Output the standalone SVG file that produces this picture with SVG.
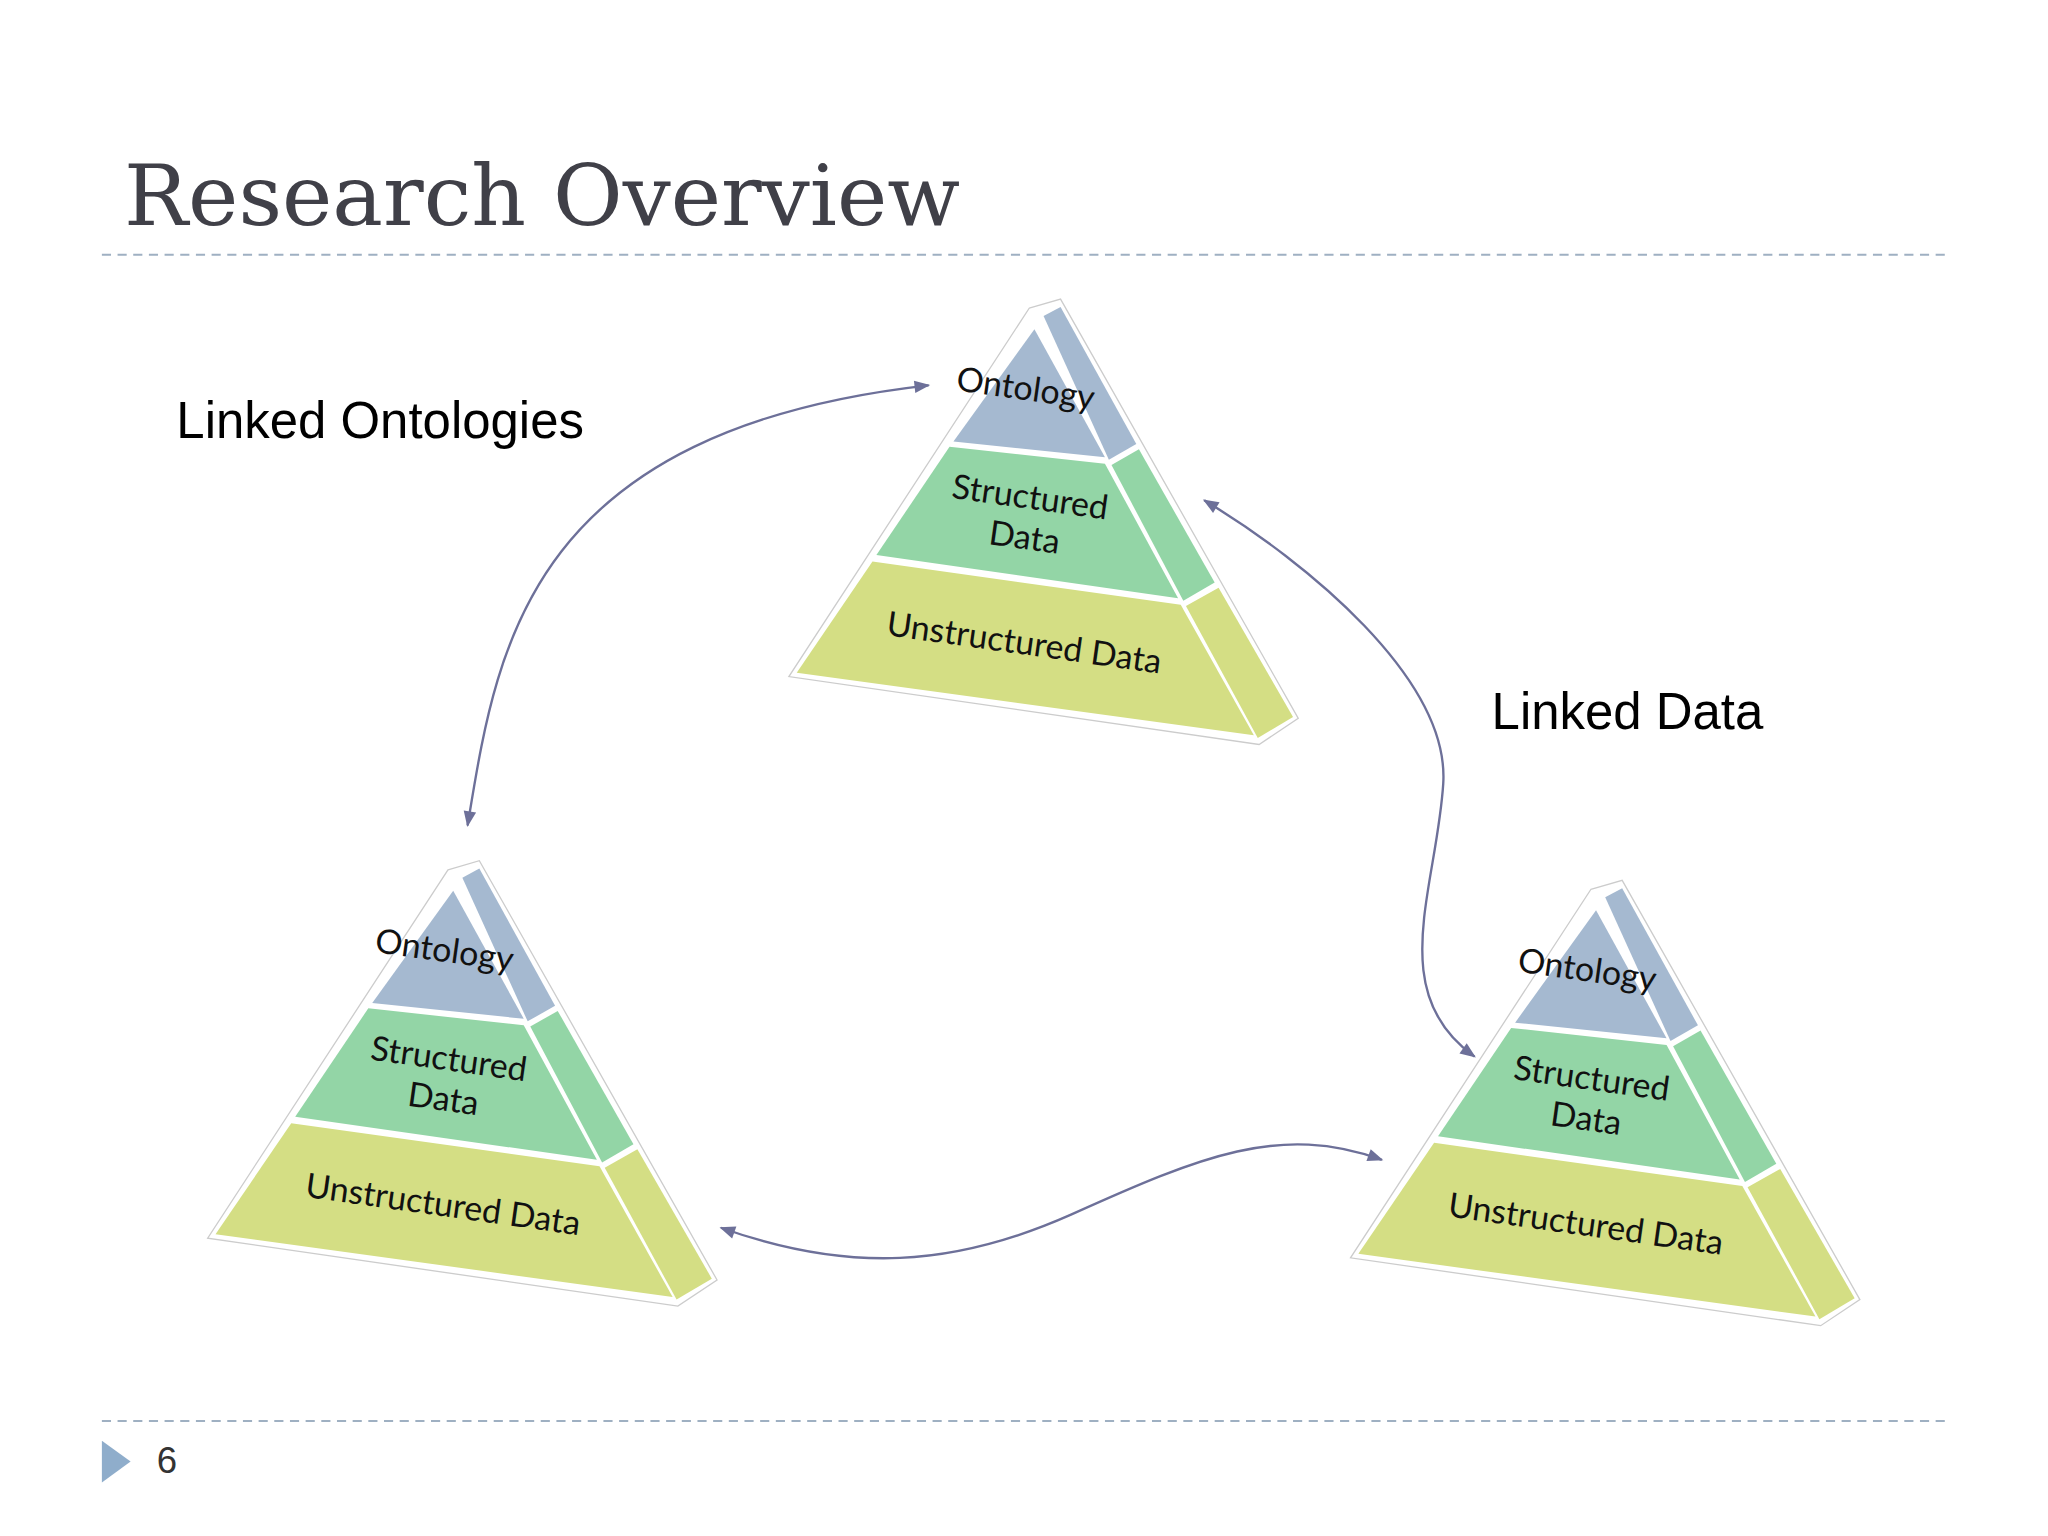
<svg xmlns="http://www.w3.org/2000/svg" width="2048" height="1536" viewBox="0 0 2048 1536">
<defs>
<style>
.o{fill:#a5b9d0}.s{fill:#93d5a6}.u{fill:#d4de84}
.t{font-family:"Lato","Open Sans",sans-serif;font-size:26px;fill:#111;text-anchor:middle}
.c{fill:none;stroke:#6d7099;stroke-width:1.8;marker-start:url(#a);marker-end:url(#a)}
.lab{font-family:"Liberation Sans",Arial,sans-serif;font-size:39px;fill:#000}
.dash{stroke:#9fb0c2;stroke-width:1.5;stroke-dasharray:7 5}
</style>
<marker id="a" viewBox="0 0 10 10" refX="9" refY="5" markerWidth="13" markerHeight="12" orient="auto-start-reverse" markerUnits="userSpaceOnUse"><path d="M0,1L10,5L0,9z" fill="#6d7099"/></marker>
<g id="pyr">
<polygon points="788,236 812,229 994,550 964,570 604,518" fill="#fff" stroke="#ccc" stroke-width="1"/>
<polygon class="o" points="792,252 846,350 730,338"/>
<polygon class="s" points="727,342 846,355 902,458 671,425"/>
<polygon class="u" points="668,430 904,463 960,563 610,515"/>
<polygon class="o" points="799,242 812,235 870,340 849,352"/>
<polygon class="s" points="851,356 872,344 930,446 906,460"/>
<polygon class="u" points="908,464 933,450 990,549 963,565"/>
<g transform="rotate(8 783 400)">
<text class="t" x="771" y="307">Ontology</text>
<text class="t" x="786" y="389">Structured</text>
<text class="t" x="786" y="420">Data</text>
<text class="t" x="797" y="500">Unstructured Data</text>
</g>
</g>
</defs>
<rect width="2048" height="1536" fill="#fff"/>
<g transform="scale(1.3061)">
<text x="95" y="172" font-family="DejaVu Serif,serif" font-size="64" fill="#404048" textLength="640" lengthAdjust="spacingAndGlyphs">Research Overview</text>
<line class="dash" x1="78" y1="195" x2="1490" y2="195"/>
<line class="dash" x1="78" y1="1088" x2="1490" y2="1088"/>
<polygon points="78,1103 100,1119 78,1135" fill="#8fadcb"/>
<text x="120" y="1128" font-family="Liberation Sans,sans-serif" font-size="28" fill="#333">6</text>
<text class="lab" x="135" y="335">Linked Ontologies</text>
<text class="lab" x="1142" y="558">Linked Data</text>
<g id="n1"><use href="#pyr"/></g>
<g id="n2"><use href="#pyr" transform="translate(-445,430)"/></g>
<g id="n3"><use href="#pyr" transform="translate(430,445)"/></g>
<g id="connectors">
<path class="c" d="M358,632 C380,500 400,330 711,295"/>
<path class="c" d="M922,383 C1000,430 1110,520 1105,600 C1100,680 1060,760 1129,809"/>
<path class="c" d="M552,940 C650,975 730,970 820,930 C920,885 980,860 1058,888"/>
</g>
</g>
</svg>
